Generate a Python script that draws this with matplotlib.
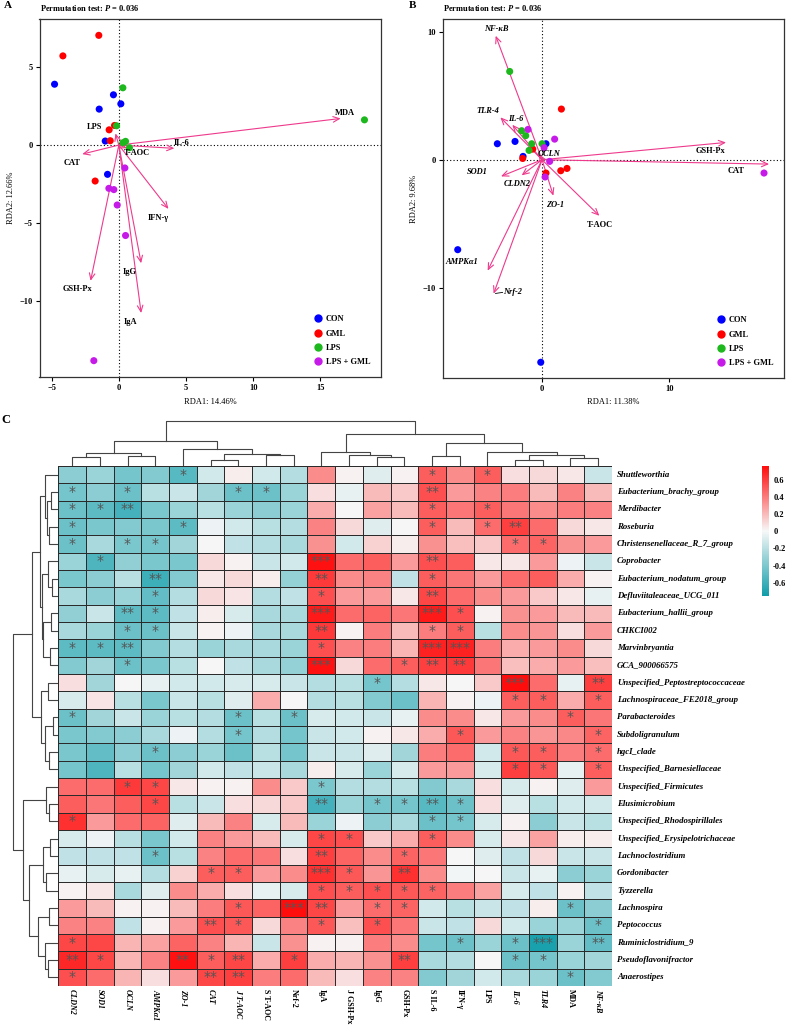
import numpy as np
import matplotlib
matplotlib.use('Agg')
import matplotlib.pyplot as plt
from matplotlib.colors import LinearSegmentedColormap, TwoSlopeNorm
from matplotlib.lines import Line2D
from matplotlib.cm import ScalarMappable

plt.rcParams['font.family'] = ['Liberation Serif', 'DejaVu Serif']
plt.rcParams['font.weight'] = 'bold'
plt.rcParams['mathtext.fontset'] = 'custom'
plt.rcParams['mathtext.it'] = 'Liberation Serif:italic:bold'
plt.rcParams['mathtext.rm'] = 'Liberation Serif:bold'

# ---- Panel A: RDA scores (RDA1, RDA2) ----
groups = ['CON', 'GML', 'LPS', 'LPS + GML']
group_colors = ['#0000FF', '#FF0000', '#1DB81D', '#C61BE8']

a_x = {
    'CON': [-4.78, -0.40, 0.15, -1.46, -1.01, -0.84],
    'GML': [-1.49, -4.16, -0.72, -0.32, -0.64, -1.76],
    'LPS': [0.30, 18.27, -0.17, 0.50, 0.30, 0.79],
    'LPS + GML': [0.45, -0.74, -0.37, -0.12, 0.50, -1.86],
}
a_y = {
    'CON': [3.91, 3.23, 2.65, 2.31, 0.26, -1.88],
    'GML': [7.05, 5.73, 0.98, 1.26, 0.28, -2.31],
    'LPS': [3.68, 1.62, 1.24, 0.24, 0.15, -0.17],
    'LPS + GML': [-1.47, -2.78, -2.86, -3.85, -5.81, -13.85],
}
a_env = ['MDA', 'IL-6', 'T-AOC', 'LPS', 'CAT', 'IFN-γ', 'IgG', 'IgA', 'GSH-Px']
a_env_x = [16.5, 4.13, 0.6, -0.25, -2.72, 3.69, 1.66, 1.66, -2.10]
a_env_y = [1.71, -0.21, -0.2, 0.75, -0.58, -4.10, -7.59, -10.79, -8.72]

# ---- Panel B ----
b_x = {
    'CON': [-3.51, -2.12, 0.31, -1.49, -6.62, -0.10],
    'GML': [1.52, -0.73, -1.52, 0.31, 1.47, 1.96],
    'LPS': [-2.54, -1.60, -1.28, -0.81, -1.02, 0.0],
    'LPS + GML': [-1.10, 0.99, 0.16, 0.60, 0.24, 17.43],
}
b_y = {
    'CON': [1.25, 1.43, 1.25, 0.26, -7.03, -15.83],
    'GML': [3.96, 0.83, 0.10, -1.04, -0.86, -0.68],
    'LPS': [6.90, 2.27, 1.88, 1.25, 0.73, 1.25],
    'LPS + GML': [2.37, 1.61, 0.94, -0.13, -1.35, -1.04],
}
b_env = ['NF-κB', 'TLR-4', 'IL-6', 'OCLN', 'GSH-Px', 'CAT', 'SOD1', 'CLDN2',
         'ZO-1', 'T-AOC', 'AMPKα1', 'Nrf-2']
b_env_x = [-3.64, -3.27, -2.33, -0.25, 14.45, 17.83, -3.22, -1.60, 0.89, 4.50, -4.27, -3.80]
b_env_y = [9.69, 3.31, 2.73, 0.45, 1.35, -0.34, -1.30, -1.22, -2.81, -4.38, -8.67, -10.47]
b_italic = {'NF-κB', 'TLR-4', 'IL-6', 'OCLN', 'SOD1', 'CLDN2', 'ZO-1', 'AMPKα1', 'Nrf-2'}

# label offsets from arrow tips (layout only)
a_lab_off = {'MDA': (0.3, 0.35), 'IL-6': (0.55, 0.36), 'T-AOC': (0.74, -0.31),
             'LPS': (-1.56, 0.43), 'CAT': (-0.77, -0.55), 'IFN-γ': (-0.79, -0.6),
             'IgG': (-0.87, -0.57), 'IgA': (-0.82, -0.6), 'GSH-Px': (-0.94, -0.53)}
b_lab_off = {'NF-κB': (0.03, 0.52), 'TLR-4': (-1.0, 0.47), 'IL-6': (0.29, 0.45),
             'OCLN': (0.83, 0.02), 'GSH-Px': (-1.26, -0.7), 'CAT': (-2.62, -0.52),
             'SOD1': (-1.86, 0.31), 'CLDN2': (-0.36, -0.66), 'ZO-1': (0.1, -0.71),
             'T-AOC': (0.03, -0.7), 'AMPKα1': (-2.04, 0.68), 'Nrf-2': (1.5, 0.11)}

# ---- Panel C: correlation heatmap ----
genera = ['Shuttleworthia', 'Eubacterium_brachy_group', 'Merdibacter', 'Roseburia',
          'Christensenellaceae_R_7_group', 'Coprobacter', 'Eubacterium_nodatum_group',
          'Defluviitaleaceae_UCG_011', 'Eubacterium_hallii_group', 'CHKCI002',
          'Marvinbryantia', 'GCA_900066575', 'Unspecified_Peptostreptococcaceae',
          'Lachnospiraceae_FE2018_group', 'Parabacteroides', 'Subdoligranulum',
          'hgcI_clade', 'Unspecified_Barnesiellaceae', 'Unspecified_Firmicutes',
          'Elusimicrobium', 'Unspecified_Rhodospirillales',
          'Unspecified_Erysipelotrichaceae', 'Lachnoclostridium', 'Gordonibacter',
          'Tyzzerella', 'Lachnospira', 'Peptococcus', 'Ruminiclostridium_9',
          'Pseudoflavonifractor', 'Anaerostipes']
indices = ['CLDN2', 'SOD1', 'OCLN', 'AMPKα1', 'ZO-1', 'CAT', 'J T-AOC', 'S T-AOC',
           'Nrf-2', 'IgA', 'J GSH-Px', 'IgG', 'GSH-Px', 'S IL-6', 'IFN-γ', 'LPS',
           'IL-6', 'TLR4', 'MDA', 'NF-κB']
italic_idx = {'CLDN2', 'SOD1', 'OCLN', 'AMPKα1', 'ZO-1', 'CAT', 'J T-AOC', 'IL-6', 'TLR4', 'NF-κB'}

corr = [
    [-0.35, -0.30, -0.42, -0.38, -0.52, -0.12, 0.03, -0.12, -0.22, 0.35, 0.02, -0.08, 0.02, 0.50, 0.35, 0.50, 0.08, 0.10, 0.05, -0.15],
    [-0.42, -0.35, -0.45, -0.20, -0.15, -0.28, -0.45, -0.45, -0.30, 0.08, -0.05, 0.20, 0.15, 0.55, 0.30, 0.38, 0.40, 0.20, 0.38, 0.20],
    [-0.45, -0.50, -0.58, -0.40, -0.30, -0.20, -0.30, -0.35, -0.30, 0.25, 0.00, 0.28, 0.20, 0.50, 0.42, 0.50, 0.42, 0.35, 0.40, 0.38],
    [-0.45, -0.40, -0.38, -0.40, -0.50, -0.03, -0.12, -0.20, -0.22, 0.38, 0.10, -0.08, 0.00, 0.50, 0.20, 0.45, 0.60, 0.45, 0.10, 0.05],
    [-0.45, -0.25, -0.40, -0.42, -0.28, 0.00, -0.18, -0.22, -0.25, 0.33, -0.12, 0.12, 0.03, 0.33, 0.18, 0.15, 0.45, 0.48, 0.33, 0.30],
    [-0.30, -0.55, -0.33, -0.40, -0.40, 0.10, 0.02, -0.15, -0.12, 0.75, 0.45, 0.50, 0.30, 0.55, 0.50, 0.05, 0.05, 0.30, -0.03, -0.15],
    [-0.40, -0.35, -0.20, -0.60, -0.38, 0.05, 0.10, 0.03, -0.32, 0.62, 0.35, 0.38, -0.18, 0.50, 0.42, 0.30, 0.45, 0.50, 0.25, 0.02],
    [-0.25, -0.35, -0.30, -0.48, -0.22, 0.10, 0.06, -0.22, -0.18, 0.55, 0.30, 0.30, 0.05, 0.58, 0.45, 0.35, 0.30, 0.15, 0.05, -0.05],
    [-0.33, -0.15, -0.50, -0.50, -0.18, 0.03, -0.10, -0.25, -0.25, 0.72, 0.45, 0.48, 0.42, 0.72, 0.55, 0.02, 0.33, 0.30, 0.20, 0.20],
    [-0.25, -0.30, -0.45, -0.45, -0.15, 0.02, -0.03, -0.25, -0.25, 0.62, 0.02, 0.40, 0.20, 0.40, 0.50, -0.20, 0.35, 0.32, 0.08, 0.30],
    [-0.50, -0.50, -0.50, -0.38, -0.22, -0.30, -0.25, -0.25, -0.30, 0.55, 0.38, 0.40, 0.22, 0.70, 0.70, 0.40, 0.25, 0.30, 0.35, 0.10],
    [-0.38, -0.28, -0.45, -0.40, -0.20, 0.00, -0.18, -0.25, -0.32, 0.75, 0.10, 0.45, 0.50, 0.60, 0.62, 0.42, 0.18, 0.25, 0.30, 0.18],
    [0.08, -0.28, 0.00, -0.05, -0.12, -0.12, -0.10, -0.10, -0.15, -0.22, -0.20, -0.42, -0.22, 0.05, 0.00, 0.15, 0.77, 0.45, -0.05, 0.60],
    [-0.10, 0.06, -0.20, -0.40, -0.15, -0.20, -0.08, 0.25, 0.00, -0.22, -0.20, -0.38, -0.45, 0.22, 0.02, -0.03, 0.50, 0.50, 0.25, 0.50],
    [-0.45, -0.28, -0.15, -0.30, -0.20, -0.22, -0.45, -0.20, -0.45, -0.10, -0.12, -0.15, -0.05, 0.35, 0.35, 0.05, 0.30, 0.35, 0.50, 0.42],
    [-0.40, -0.38, -0.35, -0.25, -0.03, -0.22, -0.42, -0.22, -0.42, -0.15, -0.12, 0.02, 0.05, 0.25, 0.52, 0.30, 0.38, 0.32, 0.36, 0.48],
    [-0.40, -0.48, -0.35, -0.45, -0.35, -0.30, -0.45, -0.20, -0.42, -0.15, -0.15, -0.08, -0.28, 0.40, 0.45, -0.12, 0.52, 0.50, 0.40, 0.45],
    [-0.42, -0.55, -0.20, -0.42, -0.28, -0.12, -0.18, -0.15, -0.25, 0.03, -0.10, -0.30, -0.10, 0.30, 0.30, -0.10, 0.60, 0.52, -0.05, 0.50],
    [0.45, 0.45, 0.62, 0.58, 0.05, 0.02, 0.02, 0.35, 0.15, -0.40, -0.22, -0.22, -0.20, -0.38, -0.25, 0.08, -0.10, 0.02, -0.08, 0.30],
    [0.50, 0.42, 0.50, 0.58, -0.20, -0.15, 0.08, 0.10, 0.15, -0.58, -0.30, -0.42, -0.42, -0.52, -0.45, 0.08, -0.08, -0.20, -0.12, -0.12],
    [0.65, 0.30, 0.45, 0.48, -0.08, 0.20, 0.38, -0.10, 0.20, -0.30, -0.03, -0.35, -0.25, -0.45, -0.42, -0.10, 0.02, -0.35, -0.15, -0.20],
    [-0.10, -0.03, -0.20, -0.40, -0.12, 0.38, 0.30, 0.20, -0.10, 0.58, 0.55, 0.15, 0.25, 0.50, 0.35, -0.10, 0.06, 0.28, 0.03, 0.03],
    [-0.18, -0.18, -0.18, -0.45, -0.20, 0.38, 0.45, 0.42, 0.08, 0.60, 0.48, 0.35, 0.48, 0.42, 0.00, -0.08, -0.18, 0.10, -0.15, -0.15],
    [-0.05, -0.10, -0.05, -0.22, 0.12, 0.50, 0.50, 0.30, 0.35, 0.65, 0.52, 0.32, 0.65, 0.35, -0.02, 0.00, -0.15, -0.05, -0.35, -0.30],
    [0.02, 0.05, -0.25, -0.08, 0.35, 0.25, 0.08, -0.05, -0.10, 0.55, 0.50, 0.55, 0.52, 0.48, 0.40, 0.28, -0.10, -0.18, 0.02, -0.18],
    [0.30, 0.20, 0.02, 0.02, 0.20, 0.40, 0.52, 0.48, 0.77, 0.58, 0.30, 0.45, 0.48, -0.12, -0.20, -0.15, -0.18, 0.03, -0.45, -0.35],
    [0.38, 0.38, -0.18, 0.02, 0.30, 0.55, 0.52, 0.10, 0.38, 0.52, 0.18, 0.55, 0.42, -0.15, -0.18, 0.10, -0.12, -0.30, -0.30, -0.45],
    [0.58, 0.58, 0.22, 0.28, 0.48, 0.38, 0.22, -0.15, 0.33, 0.02, 0.02, 0.40, 0.35, -0.42, -0.45, -0.30, -0.45, -0.72, -0.30, -0.48],
    [0.68, 0.58, 0.22, 0.38, 0.75, 0.50, 0.58, 0.25, 0.60, 0.25, 0.22, 0.33, 0.60, -0.25, -0.22, 0.00, -0.45, -0.42, -0.30, -0.28],
    [0.55, 0.45, 0.22, 0.08, 0.30, 0.58, 0.60, 0.40, 0.45, 0.20, 0.08, 0.38, 0.38, -0.38, -0.28, -0.12, -0.25, -0.30, -0.45, -0.38],
]

# significance marks: (row, column, number of stars)
sig = [
    (0, 4, 1), (0, 13, 1), (0, 15, 1),
    (1, 0, 1), (1, 2, 1), (1, 6, 1), (1, 7, 1), (1, 13, 2),
    (2, 0, 1), (2, 1, 1), (2, 2, 2), (2, 13, 1), (2, 15, 1),
    (3, 0, 1), (3, 4, 1), (3, 13, 1), (3, 15, 1), (3, 16, 2),
    (4, 0, 1), (4, 2, 1), (4, 3, 1), (4, 16, 1), (4, 17, 1),
    (5, 1, 1), (5, 9, 3), (5, 13, 2),
    (6, 3, 2), (6, 9, 2), (6, 13, 1),
    (7, 3, 1), (7, 9, 1), (7, 13, 2),
    (8, 2, 2), (8, 3, 1), (8, 9, 3), (8, 13, 3), (8, 14, 1),
    (9, 2, 1), (9, 3, 1), (9, 9, 2), (9, 13, 1), (9, 14, 1),
    (10, 0, 1), (10, 1, 1), (10, 2, 2), (10, 9, 1), (10, 13, 3), (10, 14, 3),
    (11, 2, 1), (11, 9, 3), (11, 12, 1), (11, 13, 2), (11, 14, 2),
    (12, 11, 1), (12, 16, 3), (12, 19, 2),
    (13, 16, 1), (13, 17, 1), (13, 19, 1),
    (14, 0, 1), (14, 6, 1), (14, 8, 1), (14, 18, 1),
    (15, 6, 1), (15, 14, 1), (15, 19, 1),
    (16, 3, 1), (16, 16, 1), (16, 17, 1), (16, 19, 1),
    (17, 16, 1), (17, 17, 1), (17, 19, 1),
    (18, 2, 1), (18, 3, 1), (18, 9, 1),
    (19, 3, 1), (19, 9, 2), (19, 11, 1), (19, 12, 1), (19, 13, 2), (19, 14, 1),
    (20, 0, 1), (20, 13, 1), (20, 14, 1),
    (21, 9, 1), (21, 10, 1), (21, 13, 1),
    (22, 3, 1), (22, 9, 2), (22, 12, 1),
    (23, 5, 1), (23, 6, 1), (23, 9, 3), (23, 10, 1), (23, 12, 2),
    (24, 9, 1), (24, 10, 1), (24, 11, 1), (24, 12, 1), (24, 13, 1),
    (25, 6, 1), (25, 8, 3), (25, 9, 2), (25, 11, 1), (25, 12, 1), (25, 18, 1),
    (26, 5, 2), (26, 6, 1), (26, 9, 1), (26, 11, 1), (26, 19, 1),
    (27, 0, 1), (27, 14, 1), (27, 16, 1), (27, 17, 3), (27, 19, 2),
    (28, 0, 2), (28, 1, 1), (28, 4, 2), (28, 5, 1), (28, 6, 2), (28, 8, 1), (28, 12, 2), (28, 16, 1), (28, 17, 1),
    (29, 0, 1), (29, 5, 2), (29, 6, 2), (29, 18, 1),
]

# dendrograms: (left, right, merge height in px); leaves are indices
col_tree = (
    (((0, 1, 9.3), (2, 3, 10.3), 13.3), (4, ((5, 6, 6.3), (7, 8, 11.3), 12.3), 16.7), 25.3),
    ((9, (10, (11, 12, 9.0), 11.0), 14.3),
     ((13, 14, 9.7), (15, ((16, 17, 6.0), (18, 19, 8.0), 11.0), 14.0), 22.7), 31.7),
    45.3)
row_tree = (
    (((0, ((1, 2, 7.6), (3, 4, 9.0), 11.6), 13.3),
      ((5, (6, 7, 6.6), 10.0), ((8, 9, 7.6), (10, 11, 8.3), 15.0), 16.6), 18.3),
     ((12, 13, 10.6), ((14, 15, 5.0), (16, 17, 9.0), 13.3), 17.5), 26.6),
    ((18, (19, 20, 9.3), 12.6),
     (((21, 22, 8.3), (23, 24, 12.6), 15.0),
      ((25, 26, 9.0), (27, (28, 29, 10.0), 13.3), 20.0), 29.0), 35.0),
    45.0)

W, H = 787, 1025
fig = plt.figure(figsize=(W / 100, H / 100), dpi=100)


def px_axes(left, top, right, bottom):
    return fig.add_axes([left / W, 1 - bottom / H, (right - left) / W, (bottom - top) / H])


def fig_text(x, y, s, **kw):
    fig.text(x / W, 1 - y / H, s, **kw)


pink = '#EE3A8C'


def rda_panel(ax, xs, ys, env, ex, ey, offs, italic, xlim, ylim, xt, yt, xl, yl):
    ax.axhline(0, color='black', ls=(0, (1, 2)), lw=0.8, zorder=1)
    ax.axvline(0, color='black', ls=(0, (1, 2)), lw=0.8, zorder=1)
    for name, x, y in zip(env, ex, ey):
        ax.annotate('', xy=(x, y), xytext=(0, 0), zorder=2,
                    arrowprops=dict(arrowstyle='->,head_length=0.45,head_width=0.2',
                                    color=pink, lw=0.8, shrinkA=0, shrinkB=0))
        dx, dy = offs[name]
        ax.text(x + dx, y + dy, name, ha='center', va='center', fontsize=6,
                style='italic' if name in italic else 'normal', zorder=4)
    for g, c in zip(groups, group_colors):
        ax.scatter(xs[g], ys[g], s=26, color=c, edgecolors='none', zorder=3)
    ax.set_xlim(*xlim)
    ax.set_ylim(*ylim)
    ax.set_xticks(xt)
    ax.set_yticks(yt)
    ax.tick_params(direction='out', length=3, width=0.8, labelsize=6, pad=2)
    for sp in ax.spines.values():
        sp.set_color('#333333')
        sp.set_linewidth(0.9)
    ax.set_xlabel(xl, fontsize=6, labelpad=4)
    ax.set_ylabel(yl, fontsize=6, labelpad=3)
    handles = [Line2D([], [], marker='o', ls='', color=c, markersize=5) for c in group_colors]
    ax.legend(handles, groups, loc='lower right', frameon=False, fontsize=6,
              handletextpad=0.3, labelspacing=0.75, borderaxespad=0.9, handlelength=1.2)


axA = px_axes(39.5, 19, 381, 377)
rda_panel(axA, a_x, a_y, a_env, a_env_x, a_env_y, a_lab_off, set(),
          (-5.9, 19.5), (-14.9, 8.1), [-5, 0, 5, 10, 15], [-10, -5, 0, 5],
          'RDA1: 14.46%', 'RDA2: 12.66%')
axB = px_axes(442.7, 19, 784, 378)
rda_panel(axB, b_x, b_y, b_env, b_env_x, b_env_y, b_lab_off, b_italic,
          (-7.8, 19.0), (-17.06, 11.0), [0, 10], [-10, 0, 10],
          'RDA1: 11.38%', 'RDA2: 9.68%')
# leader line for Nrf-2 label
i_nrf = b_env.index('Nrf-2')
axB.plot([b_env_x[i_nrf] + 0.15, b_env_x[i_nrf] + 0.7],
         [b_env_y[i_nrf] + 0.02, b_env_y[i_nrf] + 0.1], color='black', lw=0.6)

fig_text(40, 8, 'Permutation test: $P$ = 0.036', fontsize=6, va='center', ha='left')
fig_text(443, 8, 'Permutation test: $P$ = 0.036', fontsize=6, va='center', ha='left')
fig_text(4, 5, 'A', fontsize=8, va='center', ha='left')
fig_text(409, 5, 'B', fontsize=8, va='center', ha='left')
fig_text(1, 420, 'C', fontsize=9, va='center', ha='left')

# heatmap
cmap = LinearSegmentedColormap.from_list('tealred', ['#109DAA', '#F7F7F7', '#FF0D0D'])
norm = TwoSlopeNorm(vmin=-0.752, vcenter=0, vmax=0.768)
axH = px_axes(58.3, 466, 612, 986)
mat = np.array(corr)
axH.pcolormesh(mat, cmap=cmap, norm=norm, edgecolors='#2b2b2b', linewidth=0.5)
axH.set_xlim(0, len(indices))
axH.set_ylim(len(genera), 0)
axH.set_xticks([])
axH.set_yticks([])
for sp in axH.spines.values():
    sp.set_visible(False)
for i, name in enumerate(genera):
    axH.text(len(indices) + 0.18, i + 0.5, name, ha='left', va='center',
             fontsize=6.3, style='italic')
for j, name in enumerate(indices):
    axH.text(j + 0.5, len(genera) + 0.18, name, ha='center', va='top', rotation=-90,
             fontsize=5.8, style='italic' if name in italic_idx else 'normal')
for r, c, n in sig:
    axH.text(c + 0.5, r + 0.5, '*' * n, ha='center', va='center', fontsize=10,
             color='#555555', family='DejaVu Sans', fontweight='normal')


def draw_tree(ax, node, orient):
    if isinstance(node, int):
        return node + 0.5, 0.0
    left, right, h = node
    pl, hl = draw_tree(ax, left, orient)
    pr, hr = draw_tree(ax, right, orient)
    if orient == 'top':
        ax.plot([pl, pl, pr, pr], [hl, h, h, hr], color='#444444', lw=0.8)
    else:
        ax.plot([hl, h, h, hr], [pl, pl, pr, pr], color='#444444', lw=0.8)
    return (pl + pr) / 2, h


axD1 = px_axes(58.3, 418, 612, 466)
draw_tree(axD1, col_tree, 'top')
axD1.set_xlim(0, len(indices))
axD1.set_ylim(0, 48)
axD1.axis('off')

axD2 = px_axes(10, 466, 58.3, 986)
draw_tree(axD2, row_tree, 'left')
axD2.set_xlim(48.3, 0)
axD2.set_ylim(len(genera), 0)
axD2.axis('off')

# colour bar
axC = px_axes(762, 466, 769, 596)
cb = fig.colorbar(ScalarMappable(norm=norm, cmap=cmap), cax=axC)
cb.set_ticks([-0.6, -0.4, -0.2, 0, 0.2, 0.4, 0.6])
cb.set_ticklabels(['-0.6', '-0.4', '-0.2', '0', '0.2', '0.4', '0.6'])
cb.ax.tick_params(length=0, labelsize=6, pad=3)
cb.outline.set_visible(False)

fig.savefig('out.png', dpi=100)
